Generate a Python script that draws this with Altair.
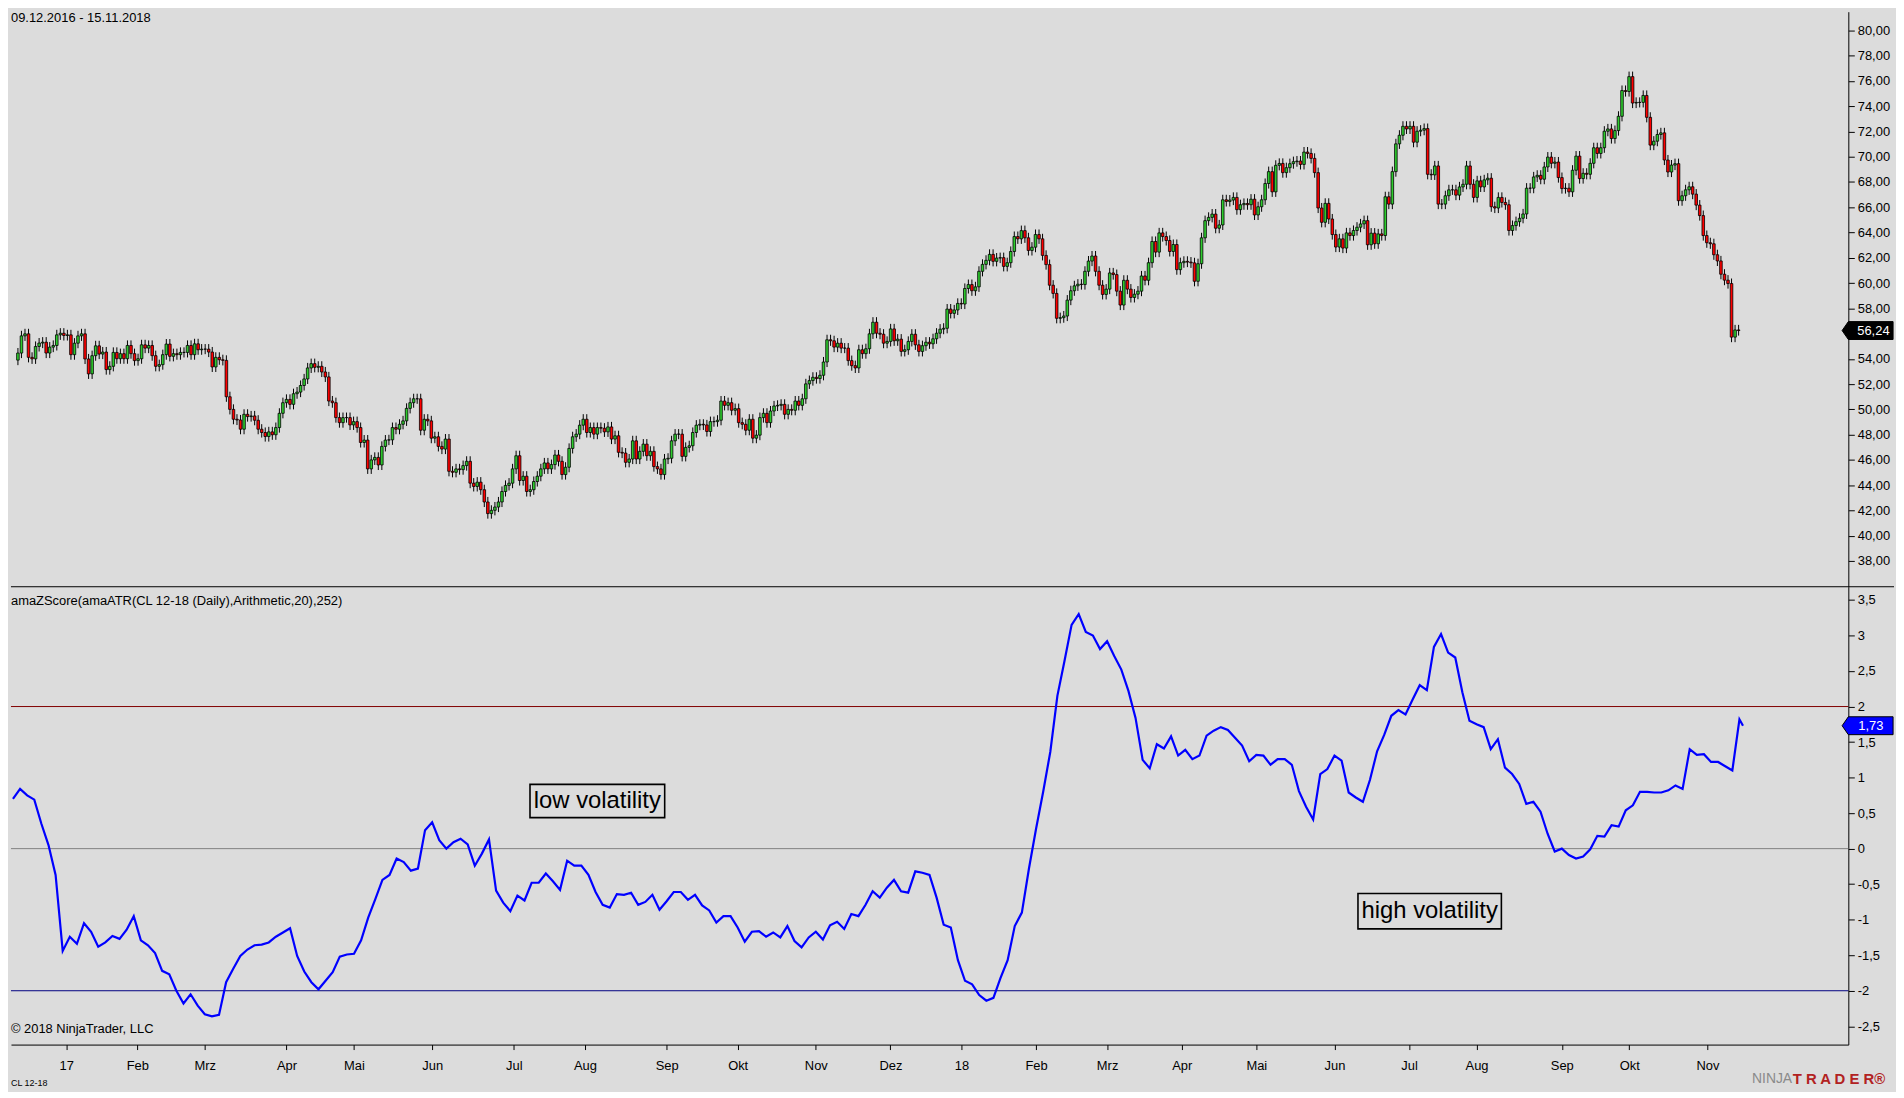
import altair as alt
import pandas as pd

FONT = "Arial, 'Liberation Sans', sans-serif"
BG = "#DCDCDC"
W, H_TOP, H_BOT = 1850, 579, 461

date_range_label = "09.12.2016 - 15.11.2018"
indicator_label = "amaZScore(amaATR(CL 12-18 (Daily),Arithmetic,20),252)"
copyright_label = "\u00a9 2018 NinjaTrader, LLC"
instrument_label = "CL 12-18"

# daily closes of CL 12-18, one per bar (bar 0 = 09.12.2016)
first_open = 53.9
close = [
    54.46, 55.82, 55.98, 54.12, 54.00, 54.98, 55.25, 55.32, 54.46, 54.93,
    55.06, 55.90, 56.03, 55.85, 55.90, 54.33, 55.24, 55.82, 55.98, 53.99,
    52.81, 54.25, 55.03, 54.38, 54.54, 53.15, 53.41, 54.51, 54.01, 54.41,
    54.01, 55.06, 54.41, 53.86, 54.01, 55.11, 54.85, 55.06, 54.25, 53.41,
    53.54, 54.33, 55.17, 54.20, 54.41, 54.33, 54.51, 54.51, 55.06, 54.33,
    55.19, 54.72, 54.77, 54.77, 54.54, 53.36, 54.12, 53.93, 53.88, 51.00,
    50.00, 49.22, 49.16, 48.43, 49.61, 49.43, 49.48, 49.14, 48.43, 48.17,
    47.85, 48.22, 47.99, 48.56, 49.69, 50.53, 50.79, 50.40, 51.24, 51.37,
    51.89, 52.41, 53.28, 53.62, 53.33, 53.41, 52.96, 52.57, 50.66, 50.53,
    49.35, 48.95, 49.35, 49.35, 48.77, 49.03, 48.56, 47.38, 47.57, 45.29,
    46.00, 46.20, 45.60, 47.07, 47.57, 47.59, 48.56, 48.43, 48.82, 49.09,
    50.08, 50.53, 50.84, 50.84, 48.35, 49.22, 49.09, 47.72, 47.83, 47.07,
    46.86, 47.65, 45.10, 45.02, 45.29, 45.23, 45.55, 45.89, 44.16, 43.90,
    44.24, 43.64, 42.67, 41.75, 42.01, 42.27, 42.67, 43.50, 43.98, 44.16,
    45.29, 46.33, 44.37, 44.71, 43.50, 43.64, 44.29, 44.71, 45.29, 45.76,
    45.29, 45.63, 46.39, 45.89, 44.84, 45.42, 46.91, 47.83, 48.04, 48.75,
    49.22, 48.17, 48.56, 48.04, 48.56, 48.51, 48.22, 48.61, 47.65, 47.91,
    46.60, 46.54, 45.81, 46.07, 47.51, 46.07, 46.68, 47.25, 46.33, 46.68,
    45.47, 45.29, 44.84, 46.07, 46.13, 47.51, 48.04, 48.04, 46.28, 46.99,
    47.12, 48.17, 48.75, 48.82, 48.77, 48.25, 49.03, 49.03, 49.14, 50.66,
    50.32, 50.53, 49.93, 50.06, 48.95, 48.82, 48.35, 49.22, 47.72, 47.96,
    49.35, 49.69, 48.95, 49.87, 50.27, 50.32, 50.40, 49.61, 50.00, 49.93,
    50.66, 50.32, 50.84, 52.02, 52.28, 52.54, 52.44, 52.70, 53.75, 55.51,
    55.43, 54.93, 55.24, 54.85, 54.85, 53.86, 53.46, 53.28, 54.72, 54.41,
    54.80, 55.98, 56.90, 56.03, 55.95, 55.24, 55.38, 56.37, 55.43, 55.56,
    54.59, 54.72, 55.38, 55.95, 55.11, 54.59, 55.04, 55.32, 55.19, 55.59,
    56.03, 56.35, 56.42, 57.94, 57.60, 57.87, 58.39, 58.34, 59.57, 59.88,
    59.39, 59.70, 60.93, 61.48, 61.80, 62.27, 61.72, 61.98, 62.01, 61.32,
    61.61, 62.50, 63.68, 63.50, 64.15, 63.58, 62.58, 62.84, 63.84, 63.50,
    62.19, 61.46, 59.83, 59.18, 57.21, 57.26, 57.39, 58.65, 59.39, 59.78,
    59.91, 59.88, 60.93, 61.74, 62.14, 60.93, 59.83, 59.10, 59.52, 60.80,
    60.67, 59.36, 58.26, 60.22, 59.52, 58.86, 59.12, 59.36, 60.56, 60.22,
    61.61, 63.29, 62.45, 63.97, 63.68, 63.37, 62.50, 63.05, 61.06, 61.61,
    61.72, 61.66, 61.60, 60.14, 61.53, 63.58, 64.94, 65.20, 65.46, 64.34,
    64.60, 66.59, 66.46, 66.57, 66.78, 65.81, 66.20, 66.30, 66.20, 66.64,
    65.39, 66.04, 66.59, 67.88, 68.82, 67.22, 69.32, 69.47, 68.74, 69.13,
    69.45, 69.61, 69.66, 69.39, 70.37, 70.26, 69.87, 68.74, 65.94, 64.81,
    66.31, 65.07, 63.84, 62.85, 63.50, 62.77, 63.97, 63.76, 64.16, 64.42,
    64.68, 64.94, 63.03, 63.95, 63.11, 63.89, 63.76, 66.83, 66.25, 68.82,
    71.02, 71.70, 72.41, 72.20, 72.41, 71.15, 72.02, 72.10, 72.23, 68.61,
    68.56, 69.27, 66.25, 66.25, 66.91, 67.38, 67.38, 66.96, 67.61, 67.82,
    69.27, 67.82, 66.78, 68.09, 67.61, 68.17, 68.30, 66.04, 65.94, 66.78,
    66.38, 66.20, 64.16, 64.55, 64.86, 65.13, 65.47, 67.51, 67.51, 68.40,
    68.53, 68.22, 69.19, 69.97, 69.48, 69.58, 68.35, 67.48, 67.51, 67.22,
    68.93, 70.05, 68.27, 68.69, 68.61, 69.48, 70.71, 70.26, 70.71, 72.02,
    72.20, 71.44, 72.07, 73.20, 75.24, 75.16, 76.34, 74.25, 74.30, 74.30,
    74.85, 73.12, 70.92, 71.23, 71.76, 71.89, 69.74, 68.79, 69.34, 69.45,
    66.52, 66.91, 67.38, 67.62, 67.04, 66.17, 65.34, 63.76, 63.19, 63.11,
    62.24, 61.75, 60.70, 60.23, 59.96, 55.72, 56.29, 56.24,
]

# z-score of ATR, read every second bar (bars 0, 2, 4, ...), plus the last bar
z_step2 = [
    0.70, 0.84, 0.75, 0.69, 0.35, 0.05, -0.37, -1.44, -1.24, -1.34,
    -1.05, -1.17, -1.38, -1.32, -1.23, -1.27, -1.14, -0.95, -1.29, -1.36,
    -1.47, -1.72, -1.77, -2.00, -2.18, -2.05, -2.21, -2.33, -2.36, -2.34,
    -1.88, -1.69, -1.51, -1.42, -1.36, -1.35, -1.32, -1.24, -1.18, -1.12,
    -1.51, -1.73, -1.88, -1.98, -1.86, -1.74, -1.52, -1.49, -1.48, -1.29,
    -0.97, -0.71, -0.44, -0.37, -0.14, -0.19, -0.31, -0.28, 0.26, 0.37,
    0.12, 0.00, 0.09, 0.14, 0.06, -0.24, -0.07, 0.13, -0.59, -0.76,
    -0.88, -0.66, -0.73, -0.48, -0.48, -0.35, -0.46, -0.58, -0.17, -0.24,
    -0.24, -0.37, -0.61, -0.79, -0.83, -0.64, -0.65, -0.62, -0.79, -0.75,
    -0.65, -0.86, -0.74, -0.61, -0.61, -0.72, -0.65, -0.80, -0.87, -1.04,
    -0.95, -0.95, -1.11, -1.31, -1.17, -1.16, -1.24, -1.18, -1.25, -1.09,
    -1.30, -1.39, -1.25, -1.17, -1.28, -1.08, -1.03, -1.13, -0.92, -0.95,
    -0.79, -0.60, -0.69, -0.55, -0.44, -0.60, -0.62, -0.32, -0.34, -0.37,
    -0.69, -1.07, -1.11, -1.57, -1.86, -1.91, -2.06, -2.14, -2.10, -1.82,
    -1.57, -1.09, -0.90, -0.28, 0.28, 0.80, 1.36, 2.15, 2.64, 3.15,
    3.30, 3.05, 3.00, 2.81, 2.92, 2.71, 2.52, 2.22, 1.84, 1.25,
    1.13, 1.47, 1.41, 1.58, 1.31, 1.39, 1.26, 1.31, 1.59, 1.66,
    1.71, 1.67, 1.56, 1.45, 1.23, 1.32, 1.31, 1.18, 1.26, 1.26,
    1.18, 0.81, 0.59, 0.41, 1.05, 1.12, 1.31, 1.24, 0.79, 0.72,
    0.66, 0.97, 1.37, 1.60, 1.87, 1.95, 1.89, 2.10, 2.30, 2.23,
    2.84, 3.02, 2.76, 2.69, 2.20, 1.80, 1.75, 1.71, 1.40, 1.54,
    1.14, 1.05, 0.91, 0.63, 0.66, 0.52, 0.21, -0.04, 0.00, -0.09,
    -0.14, -0.11, -0.01, 0.18, 0.17, 0.33, 0.31, 0.54, 0.61, 0.80,
    0.80, 0.79, 0.79, 0.82, 0.89, 0.84, 1.40, 1.32, 1.33, 1.22,
    1.22, 1.16, 1.10, 1.82,
]
z_last = 1.73

month_ticks = [15, 35, 54, 77, 96, 118, 141, 161, 184, 204, 226, 247,
               267, 288, 308, 329, 350, 372, 393, 412, 436, 455, 477]
month_labels = ["17", "Feb", "Mrz", "Apr", "Mai", "Jun", "Jul", "Aug", "Sep",
                "Okt", "Nov", "Dez", "18", "Feb", "Mrz", "Apr", "Mai", "Jun",
                "Jul", "Aug", "Sep", "Okt", "Nov"]
price_ticks = [38, 40, 42, 44, 46, 48, 50, 52, 54, 56, 58, 60, 62, 64, 66,
               68, 70, 72, 74, 76, 78, 80]
z_ticks = [-2.5, -2, -1.5, -1, -0.5, 0, 0.5, 1, 1.5, 2, 2.5, 3, 3.5]
levels = [2, 0, -2]
level_colors = ["#800000", "#808080", "#000080"]
note_texts = ["low volatility", "high volatility"]
note_bar = [164.5, 398.8]
note_z = [0.67, -0.88]
note_box = [18390, 20850]

# ---------- tables ----------
n = len(close)
opens = [first_open] + close[:-1]
wick = 0.4
price_df = pd.DataFrame({"i": list(range(n)), "open": opens, "close": close})
price_df["high"] = price_df[["open", "close"]].max(axis=1) + wick
price_df["low"] = price_df[["open", "close"]].min(axis=1) - wick
price_df["fill"] = ["#2ECC2E" if c >= o else "#FF0000" for o, c in zip(opens, close)]

z_df = pd.DataFrame({"i": list(range(0, 2 * len(z_step2), 2)) + [n - 1],
                     "z": z_step2 + [z_last]})
level_df = pd.DataFrame({"level": levels, "col": level_colors})
note_df = pd.DataFrame({"i": note_bar, "z": note_z, "t": note_texts, "bs": note_box})
ptag_df = pd.DataFrame({"v": [close[-1]], "label": [f"{close[-1]:.2f}".replace(".", ",")]})
ztag_df = pd.DataFrame({"v": [z_last], "label": [f"{z_last:.2f}".replace(".", ",")]})
one = pd.DataFrame({"a": [0]})

# ---------- scales / axes ----------
x_scale = alt.Scale(domain=[-0.56, 516.65], nice=False, zero=False)
p_scale = alt.Scale(domain=[35.96, 81.48], nice=False, zero=False)
z_scale = alt.Scale(domain=[-2.758, 3.686], nice=False, zero=False)

axis_common = dict(title=None, grid=False, domainColor="#000", tickColor="#000",
                   labelColor="#000", labelFont=FONT, labelFontSize=13,
                   labelFlush=False, labelOverlap=False, domainWidth=1, tickWidth=1)
p_axis = alt.Axis(orient="right", values=price_ticks, tickSize=6, labelPadding=3,
                  labelExpr="replace(format(datum.value, '.2f'), '.', ',')", **axis_common)
z_axis = alt.Axis(orient="right", values=z_ticks, tickSize=6, labelPadding=3,
                  labelExpr="replace(toString(datum.value), '.', ',')", **axis_common)
lbl_arr = "[" + ",".join(f"'{s}'" for s in month_labels) + "]"
tick_arr = "[" + ",".join(str(v) for v in month_ticks) + "]"
x_axis = alt.Axis(orient="bottom", values=month_ticks, tickSize=5, labelPadding=10,
                  labelAngle=0, labelExpr=f"{lbl_arr}[indexof({tick_arr}, datum.value)]",
                  **axis_common)

xt = alt.X("i:Q", scale=x_scale, axis=None)
xb = alt.X("i:Q", scale=x_scale, axis=x_axis)

TAG_PATH = "M -1 0 L -0.756 -0.351 L 1 -0.351 L 1 0.351 L -0.756 0.351 Z"
BOX_PATH = "M -1 -0.247 L 1 -0.247 L 1 0.247 L -1 0.247 Z"

# ---------- price panel ----------
wicks = alt.Chart(price_df).mark_rule(color="#000", strokeWidth=1).encode(
    x=xt, y=alt.Y("low:Q", scale=p_scale, axis=p_axis), y2="high:Q")
bodies = alt.Chart(price_df).mark_bar(size=2.6, stroke="#000", strokeWidth=0.8).encode(
    x=xt, y=alt.Y("open:Q", scale=p_scale, axis=p_axis), y2="close:Q",
    fill=alt.Fill("fill:N", scale=None))
ptag_box = alt.Chart(ptag_df).mark_point(
    shape=TAG_PATH, size=2632, filled=True, fill="#000", stroke="#000",
    strokeWidth=1, opacity=1).encode(
    x=alt.value(1869.4), y=alt.Y("v:Q", scale=p_scale, axis=p_axis))
ptag_txt = alt.Chart(ptag_df).mark_text(
    align="left", baseline="middle", color="#FFFFFF", font=FONT, fontSize=13).encode(
    x=alt.value(1859), y=alt.Y("v:Q", scale=p_scale, axis=p_axis), text="label:N")
date_txt = alt.Chart(one).mark_text(
    text=date_range_label, align="left", baseline="middle", font=FONT,
    fontSize=13, color="#000").encode(x=alt.value(0), y=alt.value(6.5))
separator = alt.Chart(one).mark_rule(color="#000", strokeWidth=1).encode(
    x=alt.value(0), x2=alt.value(1896), y=alt.value(H_TOP))

top = alt.layer(wicks, bodies, separator, ptag_box, ptag_txt, date_txt).properties(
    width=W, height=H_TOP)

# ---------- z-score panel ----------
level_rules = alt.Chart(level_df).mark_rule(strokeWidth=1).encode(
    y=alt.Y("level:Q", scale=z_scale, axis=z_axis), color=alt.Color("col:N", scale=None))
zline = alt.Chart(z_df).mark_line(color="#0000FF", strokeWidth=2.2).encode(
    x=xb, y=alt.Y("z:Q", scale=z_scale, axis=z_axis))
note_boxes = alt.Chart(note_df).mark_point(
    shape=BOX_PATH, filled=False, stroke="#000", strokeWidth=1.6, opacity=1).encode(
    x=xb, y=alt.Y("z:Q", scale=z_scale, axis=z_axis), size=alt.Size("bs:Q", scale=None))
note_txt = alt.Chart(note_df).mark_text(
    align="center", baseline="middle", font=FONT, fontSize=24, color="#000").encode(
    x=xb, y=alt.Y("z:Q", scale=z_scale, axis=z_axis), text="t:N")
ztag_box = alt.Chart(ztag_df).mark_point(
    shape=TAG_PATH, size=2632, filled=True, fill="#0000FF", stroke="#000",
    strokeWidth=1, opacity=1).encode(
    x=alt.value(1869.4), y=alt.Y("v:Q", scale=z_scale, axis=z_axis))
ztag_txt = alt.Chart(ztag_df).mark_text(
    align="left", baseline="middle", color="#FFFFFF", font=FONT, fontSize=13).encode(
    x=alt.value(1860), y=alt.Y("v:Q", scale=z_scale, axis=z_axis), text="label:N")
ind_txt = alt.Chart(one).mark_text(
    text=indicator_label, align="left", baseline="middle", font=FONT,
    fontSize=13, color="#000").encode(x=alt.value(0), y=alt.value(14.7))
copy_txt = alt.Chart(one).mark_text(
    text=copyright_label, align="left", baseline="middle", font=FONT,
    fontSize=13, color="#000").encode(x=alt.value(0), y=alt.value(445.7))
inst_txt = alt.Chart(one).mark_text(
    text=instrument_label, align="left", baseline="middle", font=FONT,
    fontSize=9, color="#000").encode(x=alt.value(0), y=alt.value(500))
ninja_txt = alt.Chart(one).mark_text(
    text="NINJA", align="left", baseline="middle", font=FONT,
    fontSize=14, color="#8A8A8A").encode(x=alt.value(1753), y=alt.value(496))
trader_txt = alt.Chart(one).mark_text(
    text="T R A D E R\u00ae", align="left", baseline="middle", font=FONT,
    fontSize=15, fontWeight="bold", color="#B22222").encode(x=alt.value(1794), y=alt.value(496))

bottom = alt.layer(level_rules, zline, note_boxes, note_txt, ztag_box, ztag_txt,
                   ind_txt, copy_txt, inst_txt, ninja_txt, trader_txt).properties(
    width=W, height=H_BOT)

chart = alt.vconcat(top, bottom, spacing=0, bounds="flush", padding=0,
                    background=BG).configure_view(strokeWidth=0)

chart.save("out.html", embed_options={"renderer": "svg", "actions": False})
